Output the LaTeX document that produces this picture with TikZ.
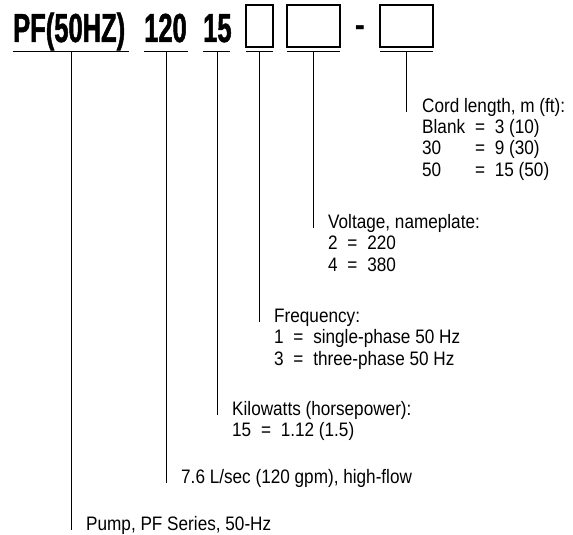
\documentclass[tikz,border=0pt]{standalone}
\usepackage{fontspec}
\setmainfont{Liberation Sans}[FakeStretch=0.88]
\newfontfamily\titlefont{Liberation Sans}[FakeStretch=0.63,FakeBold=1.2]
\newfontfamily\dashfnt{Liberation Sans}[FakeStretch=0.9]
\tikzset{
  lbl/.style={anchor=base west, inner sep=0pt, font=\fontsize{19.5}{21.5}\selectfont},
  ttl/.style={anchor=base west, inner sep=0pt, font=\fontsize{40.5}{44}\titlefont\bfseries},
  codebox/.style={draw, line width=1.1pt, inner sep=0pt},
  uline/.style={line width=1pt},
  lead/.style={line width=1pt},
}
\begin{document}
\begin{tikzpicture}[x=1pt,y=-1pt]
\useasboundingbox (0,0) rectangle (573,535);
% title parts
\node[ttl] (pf) at (13,42) {PF(50HZ)};
\node[ttl] (t120) at (144,42) {120};
\node[ttl] (t15) at (203,42) {15};
\node[anchor=base, inner sep=0pt, font=\fontsize{34}{40}\dashfnt\bfseries] (dash) at (360,37) {-};
\node[codebox, minimum width=27pt, minimum height=42pt] (b1) at (259.5,26) {};
\node[codebox, minimum width=53pt, minimum height=42pt] (b2) at (313.5,26) {};
\node[codebox, minimum width=53pt, minimum height=42pt] (b3) at (406.5,26) {};
% underline ends
\coordinate (u0l) at (13,52);  \coordinate (u0r) at (129,52); \coordinate (u0) at (71,52);
\coordinate (u1l) at (144,52); \coordinate (u1r) at (188,52); \coordinate (u1) at (166,52);
\coordinate (u2l) at (203,52); \coordinate (u2r) at (230,52); \coordinate (u2) at (217,52);
\coordinate (u3l) at (246,52); \coordinate (u3r) at (273,52); \coordinate (u3) at (259.5,52);
\coordinate (u4l) at (287,52); \coordinate (u4r) at (340,52); \coordinate (u4) at (313.5,52);
\coordinate (u5l) at (380,52); \coordinate (u5r) at (433,52); \coordinate (u5) at (406.5,52);
\foreach \i in {0,...,5} { \draw[uline] (u\i l) -- (u\i r); }
% labels
\node[lbl] (cord) at (422,112) {\begin{tabular}[t]{@{}l@{\hspace{10pt}}l@{}}\multicolumn{2}{@{}l@{}}{Cord length, m (ft):}\\ Blank & =\enspace 3 (10)\\ 30 & =\enspace 9 (30)\\ 50 & =\enspace 15 (50)\end{tabular}};
\node[lbl] (volt) at (328,228) {\begin{tabular}[t]{@{}l@{}}Voltage, nameplate:\\ 2\enspace=\enspace 220\\ 4\enspace=\enspace 380\end{tabular}};
\node[lbl] (freq) at (274,322) {\begin{tabular}[t]{@{}l@{}}Frequency:\\ 1\enspace=\enspace single-phase 50 Hz\\ 3\enspace=\enspace three-phase 50 Hz\end{tabular}};
\node[lbl] (kw) at (232,415) {\begin{tabular}[t]{@{}l@{}}Kilowatts (horsepower):\\ 15\enspace=\enspace 1.12 (1.5)\end{tabular}};
\node[lbl] (flow) at (181,483) {7.6 L/sec (120 gpm), high-flow};
\node[lbl] (pump) at (86,530) {Pump, PF Series, 50-Hz};
% leader ends
\coordinate (e0) at (71,530);
\coordinate (e1) at (166,483);
\coordinate (e2) at (217,415);
\coordinate (e3) at (259.5,322);
\coordinate (e4) at (313.5,228);
\coordinate (e5) at (406.5,112);
\foreach \i in {0,...,5} { \draw[lead] (u\i) -- (e\i); }
\end{tikzpicture}
\end{document}
